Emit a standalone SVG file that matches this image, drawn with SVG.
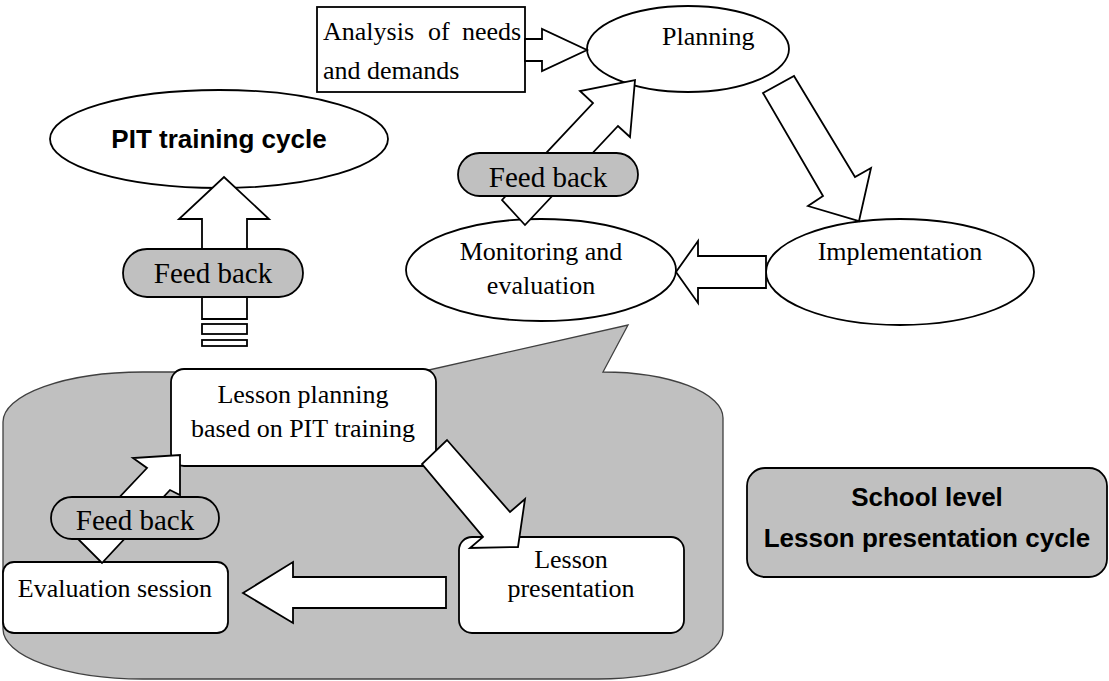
<svg xmlns="http://www.w3.org/2000/svg" width="1109" height="681" viewBox="0 0 1109 681">
  <style>
    .bg { fill: #ffffff; }
    .node { fill: #ffffff; stroke: #000000; stroke-width: 1.8; }
    .pill { fill: #c0c0c0; stroke: #000000; stroke-width: 1.8; }
    .callout { fill: #c0c0c0; stroke: #404040; stroke-width: 1.3; }
    .arrow { fill: #ffffff; stroke: #000000; stroke-width: 1.8; stroke-linejoin: miter; }
    .t { font-family: "Liberation Serif", "Times New Roman", serif; font-size: 26px; fill: #000000; }
    .tc { text-anchor: middle; }
    .fb { font-family: "Liberation Serif", "Times New Roman", serif; font-size: 29px; fill: #000000; text-anchor: middle; }
    .b { font-family: "Liberation Sans", Arial, sans-serif; font-size: 26px; font-weight: bold; fill: #000000; text-anchor: middle; }
  </style>

  <rect class="bg" x="0" y="0" width="1109" height="681"/>

  <!-- School level callout background with tail pointing to the cycle above -->
  <g id="school-callout">
    <path class="callout" d="M 143,372 L 420,372 L 628,325 L 603,372 A 120 46 0 0 1 723,418 L 723,630 A 125 49 0 0 1 598,679 L 143,679 A 140 50 0 0 1 3,629 L 3,422 A 140 50 0 0 1 143,372 Z"/>
  </g>

  <!-- Upper cycle nodes -->
  <g id="analysis">
    <rect class="node" x="317" y="7" width="208" height="85"/>
    <text class="t" x="323" y="40">Analysis</text>
    <text class="t" x="428" y="40">of</text>
    <text class="t" x="462" y="40">needs</text>
    <text class="t" x="323" y="79">and demands</text>
  </g>

  <g id="planning">
    <ellipse class="node" cx="688" cy="49" rx="101" ry="43"/>
    <text class="t" x="662" y="45">Planning</text>
  </g>

  <g id="implementation">
    <ellipse class="node" cx="900" cy="272" rx="134" ry="53"/>
    <text class="t tc" x="900" y="260">Implementation</text>
  </g>

  <g id="monitoring">
    <ellipse class="node" cx="541" cy="270" rx="135" ry="51"/>
    <text class="t tc" x="541" y="260">Monitoring and</text>
    <text class="t tc" x="541" y="294">evaluation</text>
  </g>

  <g id="pit-cycle">
    <ellipse class="node" cx="219" cy="139" rx="169" ry="49"/>
    <text class="b" x="219" y="148">PIT training cycle</text>
  </g>

  <!-- Lower cycle nodes -->
  <g id="lesson-planning">
    <rect class="node" x="171" y="369" width="265" height="97" rx="13"/>
    <text class="t tc" x="303" y="403">Lesson planning</text>
    <text class="t tc" x="303" y="437">based on PIT training</text>
  </g>

  <g id="lesson-presentation">
    <rect class="node" x="459" y="537" width="225" height="96" rx="13"/>
    <text class="t tc" x="571" y="568">Lesson</text>
    <text class="t tc" x="571" y="597">presentation</text>
  </g>

  <g id="evaluation-session">
    <rect class="node" x="3" y="562" width="225" height="71" rx="11"/>
    <text class="t tc" x="115" y="597">Evaluation session</text>
  </g>

  <g id="school-level">
    <rect class="pill" x="747" y="468" width="360" height="109" rx="18"/>
    <text class="b" x="927" y="506">School level</text>
    <text class="b" x="927" y="547">Lesson presentation cycle</text>
  </g>

  <!-- Block arrows between the stages -->
  <g id="connectors">
    <!-- needs analysis feeds planning -->
    <polygon class="arrow" points="525,39 542,39 542,29 587,50 542,71 542,61 525,61"/>
    <!-- planning to implementation -->
    <polygon class="arrow" points="763,93 794,76 855,177 871,168 859,221 808,206 823,196"/>
    <!-- implementation to monitoring -->
    <polygon class="arrow" points="766,256 698,256 698,241 676,272 698,303 698,288 766,288"/>
    <!-- monitoring back to planning -->
    <polygon class="arrow" points="502,200 593,103 580,91 635,80 630,137 618,126 525,225"/>
    <!-- feedback up to the PIT training cycle -->
    <polygon class="arrow" points="202,319 202,219 179,219 224,177 269,219 247,219 247,319"/>
    <rect class="arrow" x="202" y="324" width="45" height="10"/>
    <rect class="arrow" x="202" y="340" width="45" height="6"/>
    <!-- lesson planning to lesson presentation -->
    <polygon class="arrow" points="447,440 510,512 525,499 518,547 470,548 483,537 422,464"/>
    <!-- lesson presentation to evaluation session -->
    <polygon class="arrow" points="446,577 293,577 293,562 243,593 293,623 293,608 446,608"/>
    <!-- evaluation session back to lesson planning -->
    <polygon class="arrow" points="79,540 147,468 133,458 180,455 180,495 170,490 102,563"/>
  </g>

  <!-- Feedback labels sitting on the return arrows -->
  <g id="feedback-upper">
    <rect class="pill" x="458" y="153" width="180" height="43" rx="21.5"/>
    <text class="fb" x="548" y="187">Feed back</text>
  </g>

  <g id="feedback-pit">
    <rect class="pill" x="123" y="249" width="180" height="48" rx="24"/>
    <text class="fb" x="213" y="283">Feed back</text>
  </g>

  <g id="feedback-lower">
    <rect class="pill" x="51" y="497" width="168" height="42" rx="21"/>
    <text class="fb" x="135" y="530">Feed back</text>
  </g>
</svg>
